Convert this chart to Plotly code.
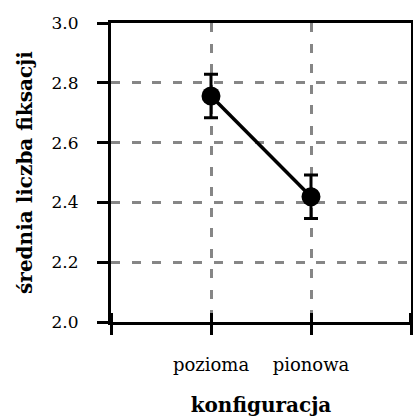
import plotly.graph_objects as go

# Mean number of fixations per layout configuration, with error margins
categories = ["pozioma", "pionowa"]
positions = [1, 2]
means = [2.756, 2.419]
errors = [0.073, 0.073]

y_ticks = [2.0, 2.2, 2.4, 2.6, 2.8, 3.0]

serif = "DejaVu Serif"
grid_dash = "9px,11.5px"

fig = go.Figure()
fig.add_trace(go.Scatter(
    x=positions,
    y=means,
    mode="lines+markers",
    line=dict(color="black", width=3.5),
    marker=dict(color="black", size=19),
    error_y=dict(type="data", array=errors, visible=True,
                 color="black", thickness=3, width=7),
    showlegend=False,
    cliponaxis=False,
))

fig.update_layout(
    width=413, height=419,
    margin=dict(l=111, r=2, t=23, b=97, autoexpand=False),
    paper_bgcolor="white",
    plot_bgcolor="white",
    font=dict(family=serif, color="black", size=16),
    xaxis=dict(
        range=[0, 3],
        tickvals=[0] + positions + [3],
        ticktext=[""] + categories + [""],
        ticks="outside", ticklen=10, tickwidth=3, tickcolor="black",
        # inward half of the crossing tick marks
        minor=dict(tickvals=[0.003, 1.003, 2.003, 2.997], ticks="inside",
                   ticklen=9, tickwidth=3, tickcolor="black", showgrid=False),
        showline=True, linecolor="black", linewidth=3, mirror=True,
        showgrid=True, gridcolor="#868686", gridwidth=2.5, griddash=grid_dash,
        zeroline=False, automargin=False,
        tickfont=dict(family=serif, size=18),
        ticklabelstandoff=14,
        title=dict(text="<b>konfiguracja</b>", font=dict(family=serif, size=20), standoff=25),
    ),
    yaxis=dict(
        range=[2.0, 3.0],
        tickvals=y_ticks,
        ticktext=[f"{v:.1f}" for v in y_ticks],
        ticks="outside", ticklen=11, tickwidth=3, tickcolor="black",
        showline=True, linecolor="black", linewidth=3, mirror=True,
        showgrid=True, gridcolor="#868686", gridwidth=2.5, griddash=grid_dash,
        zeroline=False, automargin=False,
        tickfont=dict(family=serif, size=17),
        ticklabelstandoff=15,
        title=dict(text="<b>średnia liczba fiksacji</b>", font=dict(family=serif, size=20), standoff=14),
    ),
)

fig.write_html("out.html")
